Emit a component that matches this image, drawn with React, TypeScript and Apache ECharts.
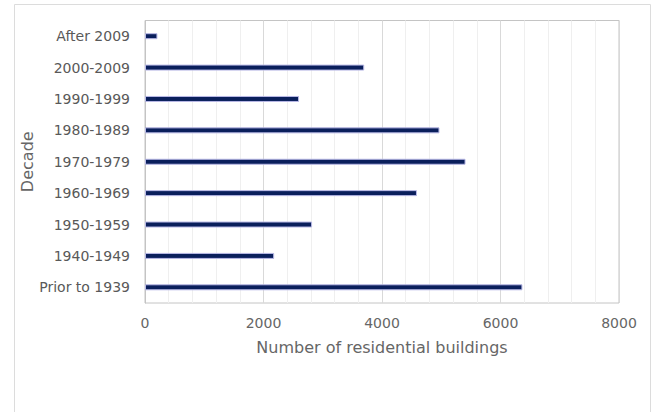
import React, { useEffect, useRef } from "react";
import * as echarts from "echarts";

const decades = [
  "After 2009",
  "2000-2009",
  "1990-1999",
  "1980-1989",
  "1970-1979",
  "1960-1969",
  "1950-1959",
  "1940-1949",
  "Prior to 1939",
];
const buildings = [210, 3700, 2600, 4970, 5410, 4590, 2820, 2180, 6370];
const xTicks = [0, 2000, 4000, 6000, 8000];

const FONT = "'DejaVu Sans', 'Noto Sans', sans-serif";

export default function App() {
  const ref = useRef<HTMLDivElement>(null);
  useEffect(() => {
    if (!ref.current) return;
    const chart = echarts.init(ref.current, null, { renderer: "svg" });
    chart.setOption({
      animation: false,
      backgroundColor: "#ffffff",
      graphic: [
        {
          type: "rect",
          shape: { x: 14.5, y: 4.5, width: 636, height: 420 },
          style: { fill: "none", stroke: "#dcdcdc", lineWidth: 1 },
          silent: true,
        },
      ],
      grid: {
        left: 145,
        right: 38,
        top: 20.5,
        bottom: 109,
        show: true,
        borderColor: "#c4c4c4",
        borderWidth: 1,
        backgroundColor: "transparent",
      },
      xAxis: {
        type: "value",
        min: xTicks[0],
        max: xTicks[xTicks.length - 1],
        interval: 2000,
        name: "Number of residential buildings",
        nameLocation: "middle",
        nameGap: 36,
        nameMoveOverlap: false,
        nameTextStyle: { color: "#666666", fontSize: 16, fontFamily: FONT },
        axisLine: { show: false },
        axisTick: { show: false },
        axisLabel: {
          color: "#666666",
          fontSize: 14,
          fontFamily: FONT,
          margin: 13,
          formatter: (v: number) => String(v),
        },
        splitLine: { show: true, lineStyle: { color: "#d9d9d9", width: 1 } },
        minorTick: { show: false, splitNumber: 5 },
        minorSplitLine: { show: true, lineStyle: { color: "#efefef", width: 1 } },
      },
      yAxis: {
        type: "category",
        data: decades,
        inverse: true,
        name: "Decade",
        nameLocation: "middle",
        nameGap: 110,
        nameMoveOverlap: false,
        nameRotate: 90,
        nameTextStyle: { color: "#666666", fontSize: 16, fontFamily: FONT },
        axisLine: { show: true, lineStyle: { color: "#c4c4c4" } },
        axisTick: { show: false },
        axisLabel: {
          color: "#595959",
          fontSize: 14,
          fontFamily: FONT,
          margin: 15,
        },
        splitLine: { show: false },
      },
      series: [
        {
          type: "bar",
          data: buildings,
          barWidth: 6,
          itemStyle: {
            color: "#0a1f5c",
            borderColor: "#b9b9e6",
            borderWidth: 1,
          },
        },
      ],
    });
    return () => chart.dispose();
  }, []);
  return (
    <div
      ref={ref}
      style={{ position: "absolute", left: 0, top: 0, width: 657, height: 412 }}
    />
  );
}
